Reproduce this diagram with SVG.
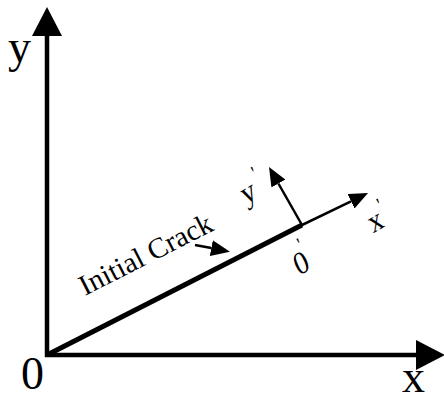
<svg xmlns="http://www.w3.org/2000/svg" width="444" height="396" viewBox="0 0 444 396">
<style>
  text { font-family: "Liberation Serif", "Times New Roman", serif; fill: #000; }
  .axis { stroke: #000; stroke-width: 4.5; fill: none; }
  .crack { stroke: #000; stroke-width: 5; fill: none; stroke-linecap: butt; }
  .thin { stroke: #000; stroke-width: 2.5; fill: none; }
  .big { font-size: 46px; }
  .lab { font-size: 28px; }
  .prime { font-size: 18px; }
</style>
<defs>
  <marker id="bigHead" markerUnits="userSpaceOnUse" markerWidth="30" markerHeight="30" refX="0" refY="15" orient="auto" viewBox="0 0 30 30">
    <path d="M0,0 L29,15 L0,30 z" fill="#000"/>
  </marker>
  <marker id="smallHead" markerUnits="userSpaceOnUse" markerWidth="20" markerHeight="16" refX="0" refY="8" orient="auto" viewBox="0 0 20 16">
    <path d="M0,0 L19,8 L0,16 z" fill="#000"/>
  </marker>
</defs>

<g id="connectors">
  <line id="y-axis" class="axis" x1="47" y1="357" x2="47" y2="36" marker-end="url(#bigHead)"/>
  <line id="x-axis" class="axis" x1="45" y1="355" x2="416" y2="355" marker-end="url(#bigHead)"/>
  <line id="crack-line" class="crack" x1="47" y1="355" x2="302" y2="225"/>
  <line id="xp-axis" class="thin" x1="301" y1="225.5" x2="351" y2="201.3" marker-end="url(#smallHead)"/>
  <line id="yp-axis" class="thin" x1="302" y1="225" x2="278.4" y2="183.5" marker-end="url(#smallHead)"/>
  <line id="crack-pointer" class="thin" x1="195" y1="245" x2="211.3" y2="248.1" marker-end="url(#smallHead)"/>
</g>

<g id="label-y"><text class="big" x="8" y="62">y</text></g>
<g id="label-x"><text class="big" x="402" y="392">x</text></g>
<g id="label-origin"><text class="big" x="21" y="389">0</text></g>

<g id="label-crack">
  <text font-size="29" transform="translate(85,296) rotate(-27)">Initial Crack</text>
</g>

<g id="label-yp">
  <text class="lab" transform="translate(245.7,205) scale(1,1.15) rotate(-27)">y<tspan class="prime" x="18.3" y="-15">'</tspan></text>
</g>
<g id="label-xp">
  <text class="lab" transform="translate(373.1,233.6) scale(1,1.15) rotate(-27)">x<tspan class="prime" x="15.4" y="-13.5">'</tspan></text>
</g>
<g id="label-op">
  <text class="lab" transform="translate(299.1,275.9) scale(1,1.15) rotate(-27)">0<tspan class="prime" x="11.2" y="-18">'</tspan></text>
</g>
</svg>
